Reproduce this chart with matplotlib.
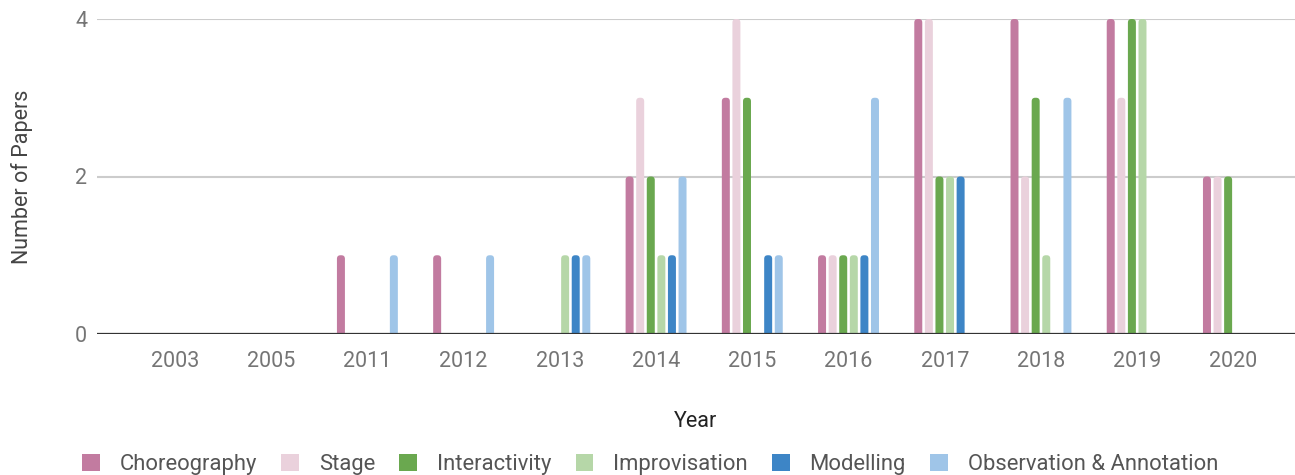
import matplotlib
matplotlib.use("Agg")
import matplotlib.pyplot as plt
import numpy as np
from matplotlib.patches import Patch, FancyBboxPatch

years = ["2003", "2005", "2011", "2012", "2013", "2014", "2015", "2016", "2017", "2018", "2019", "2020"]
choreography = [0, 0, 1, 1, 0, 2, 3, 1, 4, 4, 4, 2]
stage = [0, 0, 0, 0, 0, 3, 4, 1, 4, 2, 3, 2]
interactivity = [0, 0, 0, 0, 0, 2, 3, 1, 2, 3, 4, 2]
improvisation = [0, 0, 0, 0, 1, 1, 0, 1, 2, 1, 4, 0]
modelling = [0, 0, 0, 0, 1, 1, 1, 1, 2, 0, 0, 0]
observation = [0, 0, 1, 1, 1, 2, 1, 3, 0, 3, 0, 0]

series_names = ["Choreography", "Stage", "Interactivity", "Improvisation", "Modelling", "Observation & Annotation"]
series_values = [choreography, stage, interactivity, improvisation, modelling, observation]
colors = ["#c27ba0", "#ead1dc", "#6aa84f", "#b6d7a8", "#3d85c6", "#9fc5e8"]

plt.rcParams['font.family'] = ['Roboto', 'DejaVu Sans']

W, H = 1295, 475
fig = plt.figure(figsize=(W / 100, H / 100), dpi=100)
ax_left, ax_right, ax_top, ax_bot = 97, 1295, 19, 334
ax = fig.add_axes([ax_left / W, 1 - ax_bot / H, (ax_right - ax_left) / W, (ax_bot - ax_top) / H])

x = np.arange(len(years))
step = 0.11
width = 0.083
n = len(series_names)
xlim = (-0.81, 11.64)
ylim = (0, 4)
px_per_x = (ax_right - ax_left) / (xlim[1] - xlim[0])
px_per_y = (ax_bot - ax_top) / (ylim[1] - ylim[0])
r_px = 3.5
rx = r_px / px_per_x
ry = r_px / px_per_y

for i, (name, vals, c) in enumerate(zip(series_names, series_values, colors)):
    offs = (i - (n - 1) / 2) * step
    bars = ax.bar(x + offs, vals, width=width, color=c, label=name, zorder=3, linewidth=0)
    for b in bars:
        h = b.get_height()
        if h > 0:
            fp = FancyBboxPatch((b.get_x(), -ry), b.get_width(), h + ry,
                                boxstyle=f"round,pad=0,rounding_size={rx}",
                                mutation_aspect=ry / rx, facecolor=c, edgecolor='none', zorder=3)
            ax.add_patch(fp)
        b.set_visible(False)

ax.set_ylim(*ylim)
ax.set_xlim(*xlim)
ax.set_yticks([0, 2, 4])
ax.set_xticks(x)
ax.set_xticklabels(years)
ax.tick_params(axis='both', length=0, labelsize=15.5, labelcolor="#757575")
ax.tick_params(axis='x', pad=12)
ax.tick_params(axis='y', pad=7)
ax.grid(axis='y', color="#cccccc", linewidth=1.5, zorder=0)
ax.set_axisbelow(True)
for s in ax.spines.values():
    s.set_visible(False)
ax.axhline(0, color="#333333", linewidth=1.6, zorder=4)

ax.set_ylabel("Number of Papers", fontsize=15.5, color="#444444", labelpad=30)
ax.set_xlabel("Year", fontsize=15.5, color="#222222", labelpad=28)

handles = [Patch(facecolor=c, edgecolor='none') for c in colors]
fig.legend(handles, series_names, loc='lower center', bbox_to_anchor=(0.502, -0.042),
           ncol=6, frameon=False, fontsize=15.8, labelcolor="#555555",
           handlelength=0.8, handleheight=0.8, handletextpad=0.9, columnspacing=1.12)

fig.savefig("out.png", dpi=100)
